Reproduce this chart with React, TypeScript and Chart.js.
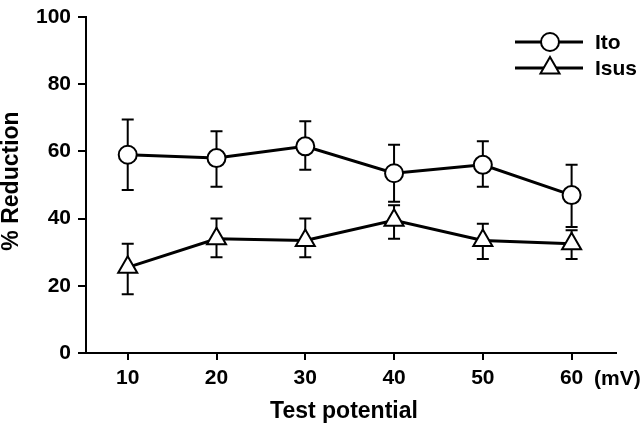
import React, { useEffect, useRef } from "react";
import { Chart, registerables } from "chart.js";

Chart.register(...registerables);

const potentials = [10, 20, 30, 40, 50, 60];
const itoMean = [59, 58, 61.5, 53.5, 56, 47];
const itoUpper = [69.5, 66, 69, 62, 63, 56];
const itoLower = [48.5, 49.5, 54.5, 45, 49.5, 37.5];
const isusMean = [25.5, 34, 33.5, 39.5, 33.5, 32.5];
const isusUpper = [32.5, 40, 40, 44, 38.5, 36.5];
const isusLower = [17.5, 28.5, 28.5, 34, 28, 28];
const yTicks = [0, 20, 40, 60, 80, 100];
const seriesNames = ["Ito", "Isus"];
const xTitle = "Test potential";
const yTitle = "% Reduction";
const xUnit = "(mV)";

const FONT = "'Liberation Sans', Arial, Helvetica, sans-serif";
const fontStr = `bold 21px ${FONT}`;
const titleFont = `bold 23px ${FONT}`;

const errorBars = [
  { upper: itoUpper, lower: itoLower },
  { upper: isusUpper, lower: isusLower },
];

const errorBarPlugin = {
  id: "errorBars",
  beforeDatasetsDraw(chart: any) {
    const ctx = chart.ctx;
    const xs = chart.scales.x;
    const ys = chart.scales.y;
    ctx.save();
    ctx.strokeStyle = "#000";
    ctx.lineWidth = 2;
    errorBars.forEach((eb) => {
      potentials.forEach((p, i) => {
        const x = xs.getPixelForValue(p);
        const yt = ys.getPixelForValue(eb.upper[i]);
        const yb = ys.getPixelForValue(eb.lower[i]);
        ctx.beginPath();
        ctx.moveTo(x, yt);
        ctx.lineTo(x, yb);
        ctx.moveTo(x - 6, yt);
        ctx.lineTo(x + 6, yt);
        ctx.moveTo(x - 6, yb);
        ctx.lineTo(x + 6, yb);
        ctx.stroke();
      });
    });
    ctx.restore();
  },
};

function drawMarker(ctx: CanvasRenderingContext2D, style: string, x: number, y: number) {
  ctx.beginPath();
  if (style === "circle") {
    ctx.arc(x, y, 9, 0, Math.PI * 2);
  } else {
    const r = 11;
    ctx.moveTo(x, y - r);
    ctx.lineTo(x + r * Math.cos(Math.PI / 6), y + r / 2);
    ctx.lineTo(x - r * Math.cos(Math.PI / 6), y + r / 2);
    ctx.closePath();
  }
  ctx.fillStyle = "#fff";
  ctx.fill();
  ctx.lineWidth = 2;
  ctx.strokeStyle = "#000";
  ctx.stroke();
}

const annotationPlugin = {
  id: "annotations",
  afterDraw(chart: any) {
    const ctx = chart.ctx as CanvasRenderingContext2D;
    ctx.save();
    ctx.fillStyle = "#000";
    ctx.font = fontStr;
    ctx.textBaseline = "middle";
    // unit label
    ctx.textAlign = "left";
    ctx.fillText(xUnit, 594, 379);
    // x title
    ctx.font = titleFont;
    ctx.textAlign = "center";
    ctx.fillText(xTitle, 344, 412);
    // y title
    ctx.save();
    ctx.translate(12, 181);
    ctx.rotate(-Math.PI / 2);
    ctx.fillText(yTitle, 0, 0);
    ctx.restore();
    // legend
    ctx.font = fontStr;
    const styles = ["circle", "triangle"];
    const ly = [42, 68];
    seriesNames.forEach((name, i) => {
      ctx.strokeStyle = "#000";
      ctx.lineWidth = 3;
      ctx.beginPath();
      ctx.moveTo(515, ly[i]);
      ctx.lineTo(583, ly[i]);
      ctx.stroke();
      drawMarker(ctx, styles[i], 550, ly[i]);
      ctx.fillStyle = "#000";
      ctx.textAlign = "left";
      ctx.fillText(name, 595, ly[i] + 1);
    });
    ctx.restore();
  },
};

export default function App() {
  const ref = useRef<HTMLCanvasElement>(null);
  useEffect(() => {
    if (!ref.current) return;
    const tickFont = { family: FONT, size: 21, weight: "bold" as const, lineHeight: 0.95 };
    const chart = new Chart(ref.current, {
      type: "line",
      data: {
        datasets: [
          {
            label: seriesNames[0],
            data: potentials.map((p, i) => ({ x: p, y: itoMean[i] })),
            borderColor: "#000",
            borderWidth: 3,
            pointStyle: "circle",
            pointRadius: 9,
            pointBorderWidth: 2,
            pointBackgroundColor: "#fff",
            pointBorderColor: "#000",
            tension: 0,
          },
          {
            label: seriesNames[1],
            data: potentials.map((p, i) => ({ x: p, y: isusMean[i] })),
            borderColor: "#000",
            borderWidth: 3,
            pointStyle: "triangle",
            pointRadius: 11,
            pointBorderWidth: 2,
            pointBackgroundColor: "#fff",
            pointBorderColor: "#000",
            tension: 0,
          },
        ],
      },
      options: {
        animation: false,
        responsive: false,
        layout: { padding: { top: 0, right: 24, left: 0, bottom: 0 } },
        plugins: { legend: { display: false }, tooltip: { enabled: false } },
        scales: {
          x: {
            type: "linear",
            min: 5.3,
            max: 65,
            afterBuildTicks: (s: any) => {
              s.ticks = potentials.map((v) => ({ value: v }));
            },
            afterFit: (s: any) => {
              s.height = 73;
            },
            ticks: { color: "#000", font: { ...tickFont, lineHeight: 1.2 }, padding: 6, maxRotation: 0 },
            grid: { drawOnChartArea: false, drawTicks: true, tickLength: 7, color: "#000", lineWidth: 2 },
            border: { display: true, color: "#000", width: 2 },
          },
          y: {
            min: 0,
            max: 100,
            afterBuildTicks: (s: any) => {
              s.ticks = yTicks.map((v) => ({ value: v }));
            },
            afterFit: (s: any) => {
              s.width = 86;
            },
            ticks: { color: "#000", font: tickFont, padding: 7 },
            grid: { drawOnChartArea: false, drawTicks: true, tickLength: 8, color: "#000", lineWidth: 2 },
            border: { display: true, color: "#000", width: 2 },
          },
        },
      },
      plugins: [errorBarPlugin, annotationPlugin],
    } as any);
    return () => chart.destroy();
  }, []);
  return (
    <div style={{ position: "fixed", left: 0, top: 0, width: 640, height: 426, background: "#fff" }}>
      <canvas ref={ref} width={640} height={426} style={{ width: 640, height: 426 }} />
    </div>
  );
}
